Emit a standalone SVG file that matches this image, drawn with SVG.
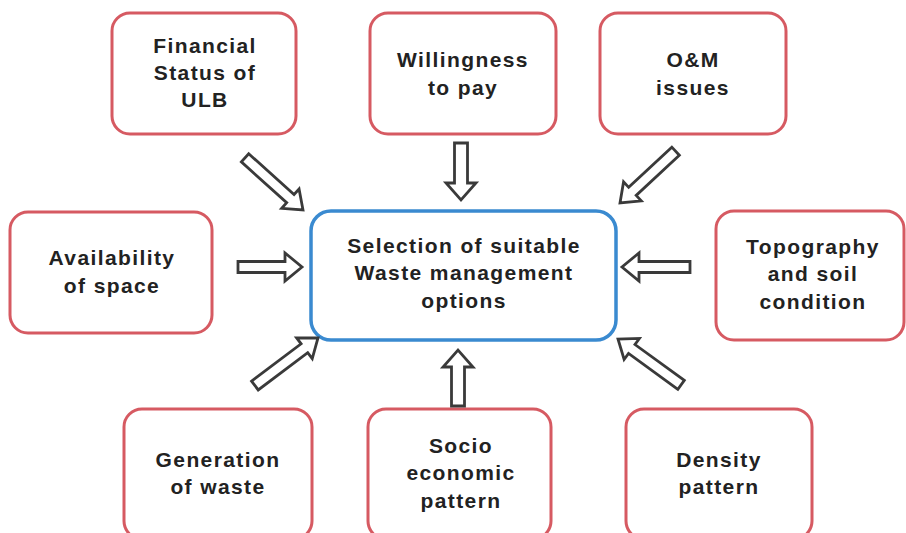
<svg xmlns="http://www.w3.org/2000/svg" width="906" height="533" viewBox="0 0 906 533">
<style>
.box{fill:#fff;stroke:#d65a62;stroke-width:3}
.main{fill:#fff;stroke:#3a8ad0;stroke-width:3.5}
.t{font-family:"Liberation Sans",Arial,sans-serif;font-weight:bold;font-size:21px;letter-spacing:1.4px;fill:#222;text-anchor:middle}
.arr{fill:#fff;stroke:#3a3a3a;stroke-width:2.8;stroke-linejoin:miter}
</style>
<rect width="906" height="533" fill="#fff"/>
<g id="financial"><rect class="box" x="112" y="13" width="184" height="121" rx="18"/>
<text class="t" x="205" y="53">Financial</text><text class="t" x="205" y="80">Status of</text><text class="t" x="205" y="107">ULB</text></g>
<g id="willingness"><rect class="box" x="370" y="13" width="186" height="121" rx="18"/>
<text class="t" x="463" y="67">Willingness</text><text class="t" x="463" y="95">to pay</text></g>
<g id="om"><rect class="box" x="600" y="13" width="186" height="121" rx="18"/>
<text class="t" x="693" y="67">O&amp;M</text><text class="t" x="693" y="95">issues</text></g>
<g id="availability"><rect class="box" x="10" y="212" width="202" height="121" rx="18"/>
<text class="t" x="112" y="265">Availability</text><text class="t" x="112" y="293">of space</text></g>
<g id="center"><rect class="main" x="311" y="211" width="305" height="129" rx="20"/>
<text class="t" x="464" y="253">Selection of suitable</text><text class="t" x="464" y="280">Waste management</text><text class="t" x="464" y="308">options</text></g>
<g id="topography"><rect class="box" x="716" y="211" width="188" height="129" rx="18"/>
<text class="t" x="813" y="254">Topography</text><text class="t" x="813" y="281">and soil</text><text class="t" x="813" y="309">condition</text></g>
<g id="generation"><rect class="box" x="124" y="409" width="188" height="130" rx="18"/>
<text class="t" x="218" y="467">Generation</text><text class="t" x="218" y="494">of waste</text></g>
<g id="socio"><rect class="box" x="368" y="409" width="183" height="130" rx="18"/>
<text class="t" x="461" y="453">Socio</text><text class="t" x="461" y="480">economic</text><text class="t" x="461" y="508">pattern</text></g>
<g id="density"><rect class="box" x="626" y="409" width="186" height="130" rx="18"/>
<text class="t" x="719" y="467">Density</text><text class="t" x="719" y="494">pattern</text></g>
<g id="connectors">
<g transform="translate(303,210) rotate(42)"><path class="arr" d="M-78,-5.5 H-17 V-13 L0,0 L-17,13 V5.5 H-78 Z"/></g>
<g transform="translate(461,200) rotate(90)"><path class="arr" d="M-57,-6.5 H-17 V-15 L0,0 L-17,15 V6.5 H-57 Z"/></g>
<g transform="translate(620,203) rotate(137)"><path class="arr" d="M-76,-5.5 H-17 V-13 L0,0 L-17,13 V5.5 H-76 Z"/></g>
<g transform="translate(302,267)"><path class="arr" d="M-64,-5.5 H-17 V-14 L0,0 L-17,14 V5.5 H-64 Z"/></g>
<g transform="translate(622,267) rotate(180)"><path class="arr" d="M-68,-5.5 H-17 V-14 L0,0 L-17,14 V5.5 H-68 Z"/></g>
<g transform="translate(318,338) rotate(-37)"><path class="arr" d="M-79,-5.5 H-17 V-13 L0,0 L-17,13 V5.5 H-79 Z"/></g>
<g transform="translate(458,350) rotate(-90)"><path class="arr" d="M-56,-6.5 H-17 V-15 L0,0 L-17,15 V6.5 H-56 Z"/></g>
<g transform="translate(618,339) rotate(-144)"><path class="arr" d="M-78,-5.5 H-17 V-13 L0,0 L-17,13 V5.5 H-78 Z"/></g>
</g>
</svg>
